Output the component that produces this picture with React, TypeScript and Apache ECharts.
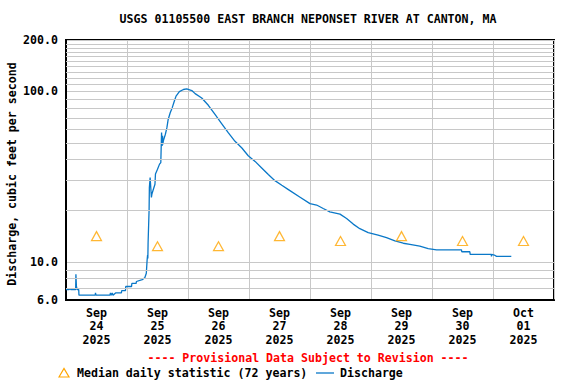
import React, { useEffect, useRef } from "react";
import * as echarts from "echarts";

// ---- Data ----
const titleText = "USGS 01105500 EAST BRANCH NEPONSET RIVER AT CANTON, MA";
const yAxisTitle = "Discharge, cubic feet per second";
const provisionalText = "---- Provisional Data Subject to Revision ----";
const medianLegend = "Median daily statistic (72 years)";
const dischargeLegend = "Discharge";

const dayMonths = ["Sep", "Sep", "Sep", "Sep", "Sep", "Sep", "Sep", "Oct"];
const dayNumbers = ["24", "25", "26", "27", "28", "29", "30", "01"];
const dayYears = ["2025", "2025", "2025", "2025", "2025", "2025", "2025", "2025"];

// median daily statistic (cfs), one per day at noon
const medianValues = [14.2, 12.4, 12.4, 14.2, 13.3, 14.2, 13.3, 13.3];

// discharge: hours since 2025-09-24 00:00 and values (cfs)
const dischargeHours = [
  0, 1.2, 1.5, 2.0, 3.8, 3.9, 4.1, 4.4, 5.0, 5.1, 11.5, 11.6, 11.8, 17.3, 17.5, 17.8,
  18.2, 18.5, 19.5, 21.8, 21.9, 23.4, 23.5, 25.8, 25.9, 27.6, 27.7, 30.0, 31.0, 31.6,
  31.9, 32.1, 32.2, 32.3, 32.7, 32.8, 33.1, 33.6, 33.8, 34.2, 35.0, 35.2, 36.0, 36.8,
  37.3, 37.6, 37.8, 38.0, 38.1, 38.3, 39.1, 39.7, 40.2, 41.0, 41.8, 42.6, 43.3, 44.6,
  46.2, 47.5, 49.5, 50.8, 53.4, 56.0, 58.7, 61.3, 63.9, 66.5, 69.2, 71.7, 74.4, 77.0,
  79.6, 82.2, 84.9, 87.5, 92.1, 96.0, 98.6, 101.2, 103.8, 107.8, 110.4, 113.0, 115.6,
  118.9, 122.8, 126.1, 129.4, 132.7, 135.3, 139.2, 142.5, 145.8, 155.6, 155.7, 158.9,
  159.0, 167.3, 167.4, 167.5, 168.5, 169.4, 175.2,
];
const dischargeValues = [
  6.9, 6.9, 7.0, 6.9, 6.9, 8.5, 7.2, 6.9, 6.9, 6.4, 6.4, 6.6, 6.4, 6.4, 6.6, 6.4,
  6.6, 6.4, 6.6, 6.6, 6.8, 6.8, 7.2, 7.2, 7.5, 7.5, 7.7, 7.9, 8.1, 8.6,
  10.2, 11.0, 10.5, 13.0, 20.4, 27.3, 31.3, 23.9, 25.0, 26.2, 28.6, 32.8, 35.0, 37.5,
  38.3, 57.4, 47.9, 55.0, 49.0, 51.3, 56.1, 61.3, 68.5, 75.0, 80.3, 87.6, 93.8, 99.6,
  102.6, 103.5, 101.2, 97.0, 91.4, 82.9, 73.0, 64.5, 57.1, 51.0, 46.6, 42.0, 38.9, 35.6,
  32.6, 30.0, 28.2, 26.6, 24.0, 22.0, 21.6, 20.6, 19.7, 19.1, 18.0, 16.7, 15.7,
  14.9, 14.4, 13.9, 13.3, 12.9, 12.7, 12.4, 12.0, 11.8, 11.8, 11.5, 11.5,
  11.1, 11.1, 10.8, 11.1, 11.0, 10.8, 10.8,
];

// y-axis range and minor grid values (cfs)
const yMin = 6;
const yMax = 200;
const minorGridValues = [7, 8, 9, 20, 30, 40, 50, 60, 70, 80, 90, 110, 120, 130, 140, 150, 160, 170, 180, 190];
const totalHours = 192;

const FONT = '"DejaVu Sans Mono", monospace';
const FS = 11.6;
const BLUE = "#0a78c8";
const ORANGE = "#ffa500";
const GRID = "#c8c8c8";

export default function App() {
  const ref = useRef<HTMLDivElement>(null);

  useEffect(() => {
    if (!ref.current) return;
    const chart = echarts.init(ref.current, null, { renderer: "svg" });
    const categories = dayMonths.map((m, i) => `${m}\n${dayNumbers[i]}\n${dayYears[i]}`);
    const discharge = dischargeHours.map((h, i) => [h, dischargeValues[i]]);

    const textStyle = (extra: any) => ({
      fontFamily: FONT,
      fontSize: FS,
      fontWeight: "bold",
      fill: "#000",
      ...extra,
    });

    chart.setOption({
      animation: false,
      backgroundColor: "#fff",
      textStyle: { fontFamily: FONT, fontWeight: "bold", fontSize: FS },
      grid: {
        left: 66,
        top: 40,
        width: 488,
        height: 260,
        containLabel: false,
        outerBoundsMode: "none",
        show: true,
        borderColor: "#000",
        borderWidth: 2,
        backgroundColor: "#fff",
      },
      xAxis: [
        {
          type: "category",
          data: categories,
          boundaryGap: true,
          axisLine: { show: true, lineStyle: { color: "#000", width: 2 } },
          axisTick: { show: false },
          splitLine: { show: true, lineStyle: { color: GRID, width: 1 } },
          axisLabel: {
            color: "#000",
            fontFamily: FONT,
            fontSize: FS,
            fontWeight: "bold",
            lineHeight: 13.5,
            margin: 6,
            interval: 0,
          },
        },
        {
          type: "value",
          min: 0,
          max: totalHours,
          show: false,
        },
      ],
      yAxis: {
        type: "log",
        logBase: 10,
        min: yMin,
        max: yMax,
        name: yAxisTitle,
        nameLocation: "middle",
        nameGap: 48,
        nameMoveOverlap: false,
        nameTextStyle: { color: "#000", fontFamily: FONT, fontSize: FS, fontWeight: "bold", padding: [0, 8, 0, 0] },
        axisLine: { show: true, lineStyle: { color: "#000", width: 2 } },
        axisTick: { show: false },
        splitLine: { show: true, lineStyle: { color: GRID, width: 1 } },
        axisLabel: {
          color: "#000",
          fontFamily: FONT,
          fontSize: FS,
          fontWeight: "bold",
          margin: 8,
          formatter: (v: number) => Number(v).toFixed(1),
        },
      },
      series: [
        {
          name: "grid",
          type: "line",
          xAxisIndex: 1,
          data: [],
          silent: true,
          z: 1,
          markLine: {
            silent: true,
            symbol: ["none", "none"],
            label: { show: false },
            lineStyle: { color: GRID, width: 1, type: "solid" },
            data: minorGridValues.map((v) => ({ yAxis: v })),
          },
        },
        {
          name: dischargeLegend,
          type: "line",
          xAxisIndex: 1,
          data: discharge,
          showSymbol: false,
          symbol: "none",
          lineStyle: { color: BLUE, width: 1.3 },
          z: 3,
        },
        {
          name: medianLegend,
          type: "scatter",
          xAxisIndex: 0,
          data: medianValues,
          symbol: "triangle",
          symbolSize: [10, 9],
          itemStyle: { color: "rgba(255,255,255,0)", borderColor: ORANGE, borderWidth: 1.2 },
          z: 4,
        },
      ],
      graphic: [
        {
          type: "text",
          x: 308,
          y: 19,
          style: textStyle({ text: titleText, align: "center", textAlign: "center", verticalAlign: "middle", textVerticalAlign: "middle" }),
        },
        {
          type: "text",
          x: 308,
          y: 358,
          style: textStyle({ text: provisionalText, fill: "#ff0000", align: "center", textAlign: "center", verticalAlign: "middle", textVerticalAlign: "middle" }),
        },
        {
          type: "polygon",
          shape: { points: [[59, 377], [64, 368.5], [69, 377]] },
          style: { fill: "rgba(255,255,255,0)", stroke: ORANGE, lineWidth: 1.2 },
        },
        {
          type: "text",
          x: 77,
          y: 373,
          style: textStyle({ text: medianLegend, align: "left", textAlign: "left", verticalAlign: "middle", textVerticalAlign: "middle" }),
        },
        {
          type: "line",
          shape: { x1: 316, y1: 373, x2: 334, y2: 373 },
          style: { stroke: BLUE, lineWidth: 1.3 },
        },
        {
          type: "text",
          x: 340,
          y: 373,
          style: textStyle({ text: dischargeLegend, align: "left", textAlign: "left", verticalAlign: "middle", textVerticalAlign: "middle" }),
        },
      ],
    });

    return () => chart.dispose();
  }, []);

  return <div ref={ref} style={{ width: 576, height: 384, position: "absolute", left: 0, top: 0 }} />;
}
